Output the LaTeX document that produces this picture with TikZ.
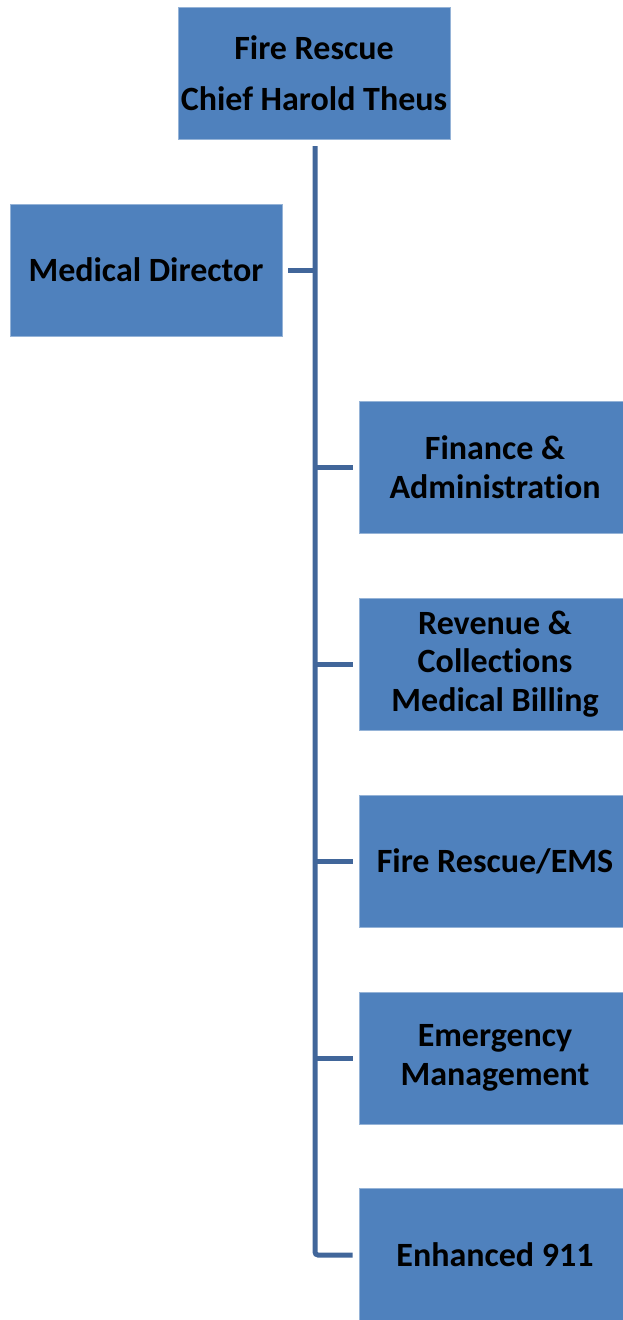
\documentclass[tikz,border=0pt]{standalone}
\usepackage{fontspec}
\setmainfont{Carlito}[Ligatures=NoCommon]
\definecolor{boxblue}{HTML}{4F81BD}
\definecolor{linkblue}{HTML}{41669A}
\begin{document}
\begin{tikzpicture}[x=1pt,y=-1pt,
  orgbox/.style={fill=boxblue, draw=boxblue!60!white, line width=0.6pt, minimum width=272pt, minimum height=132pt, inner sep=0pt, align=center, font=\fontsize{34}{38.5}\selectfont\bfseries},
  link/.style={draw=linkblue, line width=5pt}]
\useasboundingbox (0,0) rectangle (622,1320);
\node[orgbox] (top) at (314,73) {Fire Rescue\\[13pt]Chief Harold Theus};
\node[orgbox] (med) at (146,270) {Medical Director};
\node[orgbox] (fin) at (495,467) {Finance \&\\Administration};
\node[orgbox] (rev) at (495,664) {Revenue \&\\Collections\\Medical Billing};
\node[orgbox] (ems) at (495,861) {Fire Rescue/EMS};
\node[orgbox] (emg) at (495,1058) {Emergency\\Management};
\node[orgbox] (e911) at (495,1254.5) {Enhanced 911};
\coordinate (trunk top) at (315,146);
\coordinate (trunk bottom) at (315,1255);
\draw[link, rounded corners=3pt] (trunk top) -- (trunk bottom) -- ([xshift=-6pt]e911.west |- trunk bottom);
\draw[link] ([xshift=6pt]med.east) -- (315,270);
\foreach \n in {fin,rev,ems,emg}
  \draw[link] (315,0 |- \n.west) -- ([xshift=-6pt]\n.west);
\end{tikzpicture}
\end{document}
